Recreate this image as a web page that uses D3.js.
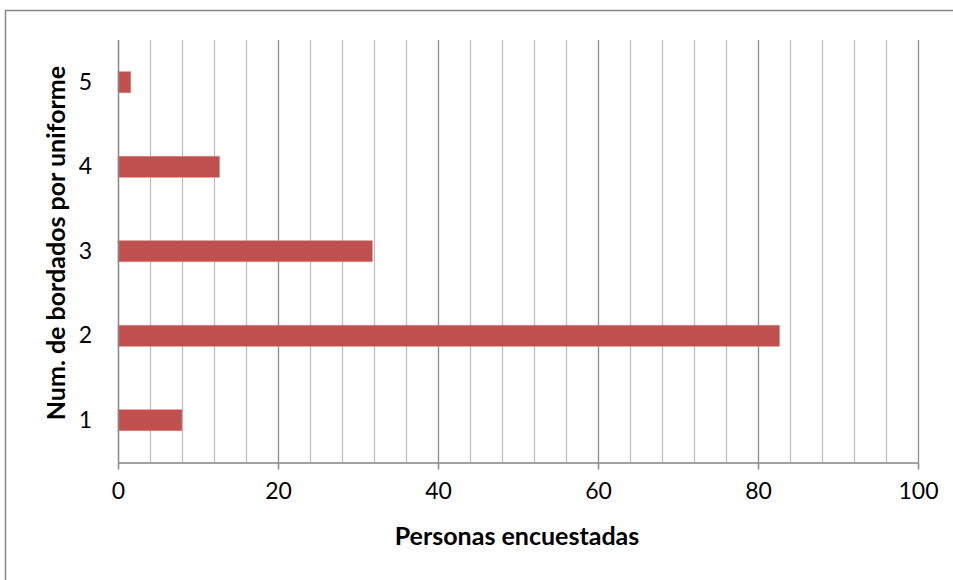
<!DOCTYPE html>
<html><head><meta charset="utf-8">
<script src="https://cdn.jsdelivr.net/npm/d3@7"></script>
<style>body{margin:0;background:#fff}svg{display:block}</style>
</head><body>
<svg id="c" width="953" height="580"></svg>
<script>
const categories = ["1","2","3","4","5"];
const values = [8, 82.7, 31.8, 12.7, 1.6];
const majorTicks = [0, 20, 40, 60, 80, 100];
const xTitle = "Personas encuestadas";
const yTitle = "Num. de bordados por uniforme";

const svg = d3.select("#c");
const W = 953, H = 580;
const L = 118, R = 918, T = 40, B = 462.5;
const font = "Lato, 'Open Sans', sans-serif";

svg.append("rect").attr("x",5.5).attr("y",10.5).attr("width",W).attr("height",H)
  .attr("fill","#fff").attr("stroke","#868686").attr("stroke-width",1.5);

const x = d3.scaleLinear().domain([0,100]).range([L,R]);
const y = d3.scaleBand().domain(categories).range([B,T]).paddingInner(0.75).paddingOuter(0.375);

const minor = d3.range(4, 100, 4).filter(v => v % 20 !== 0);
svg.append("g").selectAll("line").data(minor).join("line")
  .attr("x1",d=>Math.round(x(d))+0.5).attr("x2",d=>Math.round(x(d))+0.5)
  .attr("y1",T).attr("y2",B)
  .attr("stroke","#bfbfbf").attr("stroke-width",1.3);
svg.append("g").selectAll("line").data(majorTicks.slice(1)).join("line")
  .attr("x1",d=>Math.round(x(d))+0.5).attr("x2",d=>Math.round(x(d))+0.5)
  .attr("y1",T).attr("y2",B)
  .attr("stroke","#8c8c8c").attr("stroke-width",1.3);

svg.append("g").selectAll("rect").data(categories).join("rect")
  .attr("x",x(0)).attr("y",d=>y(d))
  .attr("width",(d,i)=>x(values[i])-x(0)).attr("height",y.bandwidth())
  .attr("fill","#C0504D").attr("stroke","#d99694").attr("stroke-width",0.6);

const xa = svg.append("g").attr("transform",`translate(0,${B})`)
  .call(d3.axisBottom(x).tickValues(majorTicks).tickSize(7).tickPadding(13).tickFormat(d3.format("d")));
xa.select(".domain").attr("stroke","#868686").attr("stroke-width",1.5).attr("d",`M${L},0.5H${R}`);
xa.selectAll(".tick line").attr("stroke","#868686").attr("stroke-width",1.5);
xa.selectAll(".tick text").attr("font-family",font).attr("font-size",23).attr("fill","#000");

const ya = svg.append("g").attr("transform",`translate(${L},0)`)
  .call(d3.axisLeft(y).tickSize(0).tickPadding(26));
ya.select(".domain").attr("stroke","#868686").attr("stroke-width",1.5).attr("d",`M0.5,${T}V${B}`);
ya.selectAll(".tick text").attr("font-family",font).attr("font-size",23).attr("fill","#000");

svg.append("text").attr("x",517).attr("y",545).attr("text-anchor","middle")
  .attr("font-family",font).attr("font-weight","bold").attr("font-size",25).text(xTitle);
svg.append("text").attr("transform","translate(65,243) rotate(-90)").attr("text-anchor","middle")
  .attr("font-family",font).attr("font-weight","bold").attr("font-size",25).text(yTitle);
</script>
</body></html>
